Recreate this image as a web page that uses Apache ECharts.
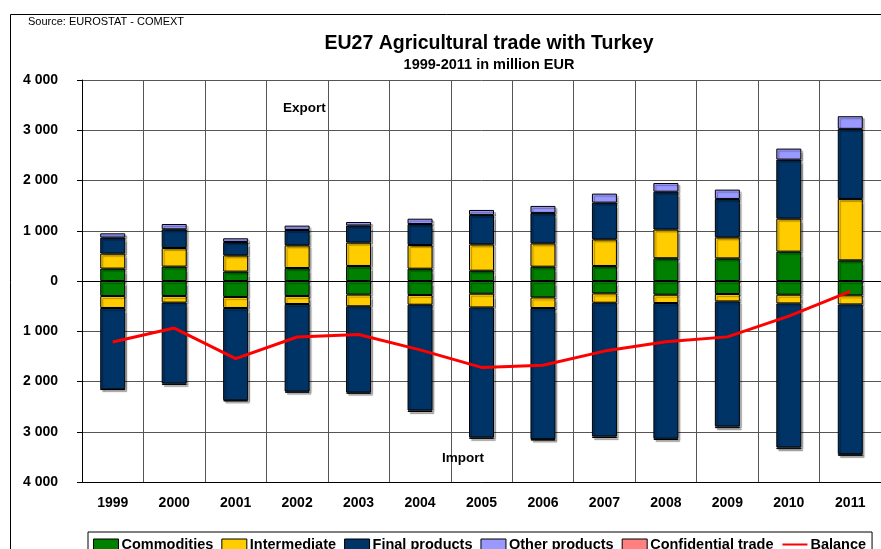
<!DOCTYPE html>
<html>
<head>
<meta charset="utf-8">
<title>EU27 Agricultural trade with Turkey</title>
<script src="https://cdn.jsdelivr.net/npm/echarts@6/dist/echarts.min.js"></script>
<style>
  html, body { margin: 0; padding: 0; background: #fff; }
  #chart { width: 881px; height: 549px; }
</style>
</head>
<body>
<div id="chart"></div>
<script>
const years = ['1999', '2000', '2001', '2002', '2003', '2004', '2005', '2006', '2007', '2008', '2009', '2010', '2011']

// export side (positive), million EUR
const commoditiesExport = [247, 287, 187, 259, 299, 245, 205, 285, 299, 453, 450, 584, 411]
const intermediateExport = [298, 370, 324, 451, 465, 471, 524, 464, 530, 572, 419, 657, 1222]
const finalExport = [319, 372, 265, 305, 338, 418, 586, 606, 731, 752, 764, 1175, 1395]
const otherExport = [85, 105, 74, 87, 72, 106, 99, 139, 179, 173, 186, 219, 251]

// import side (negative)
const commoditiesImport = [-299, -299, -318, -299, -271, -279, -253, -327, -247, -273, -259, -273, -286]
const intermediateImport = [-238, -131, -219, -159, -232, -193, -273, -211, -185, -165, -147, -173, -180]
const finalImport = [-1618, -1612, -1837, -1743, -1718, -2105, -2589, -2609, -2663, -2701, -2490, -2868, -2980]
const otherImport = [-10, -25, -20, -20, -20, -30, -26, -28, -30, -24, -33, -33, -34]

const confidential = [0, 0, 0, 0, 0, 0, 0, 0, 0, 0, 0, 0, 0]
const balance = [-1214, -936, -1545, -1115, -1065, -1370, -1720, -1678, -1395, -1210, -1112, -700, -205]

const yTicks = [-4000, -3000, -2000, -1000, 0, 1000, 2000, 3000, 4000]

const FONT = 'Liberation Sans, Arial, sans-serif'

const colors = {
  'Commodities': '#008000',
  'Intermediate': '#FFCC00',
  'Final products': '#003366',
  'Other products': '#9999FF',
  'Confidential trade': '#FF8080',
  'Balance': '#FF0000'
}

function barSeries(name, data) {
  return {
    name: name,
    type: 'bar',
    stack: 'trade',
    barWidth: 25,
    data: data.map(v => (v === 0 ? null : v)),
    itemStyle: {
      color: colors[name],
      borderColor: '#000',
      borderWidth: 1,
      shadowColor: 'rgba(0,0,0,0.3)',
      shadowOffsetX: 2,
      shadowOffsetY: 2,
      shadowBlur: 1
    },
    emphasis: { disabled: true }
  }
}

function fmt(v) {
  return String(Math.abs(v)).replace(/\B(?=(\d{3})+(?!\d))/g, ' ')
}

const legendNames = ['Commodities', 'Intermediate', 'Final products', 'Other products', 'Confidential trade']

const option = {
  animation: false,
  backgroundColor: '#fff',
  title: [
    {
      text: 'EU27 Agricultural trade with Turkey',
      left: 484,
      top: 29,
      textAlign: 'center',
      textStyle: { fontFamily: FONT, fontWeight: 'bold', fontSize: 19.5, color: '#000' }
    },
    {
      text: '1999-2011 in million EUR',
      left: 484,
      top: 52,
      textAlign: 'center',
      textStyle: { fontFamily: FONT, fontWeight: 'bold', fontSize: 14.5, color: '#000' }
    }
  ],
  graphic: [
    {
      type: 'rect',
      shape: { x: 10.5, y: 14.5, width: 900, height: 600 },
      style: { fill: 'none', stroke: '#000', lineWidth: 1 },
      silent: true,
      z: -1
    },
    {
      type: 'text',
      left: 28,
      top: 16,
      style: { text: 'Source: EUROSTAT - COMEXT', font: '11px ' + FONT, fill: '#000' }
    },
    {
      type: 'text',
      left: 283,
      top: 101,
      style: { text: 'Export', font: 'bold 13.5px ' + FONT, fill: '#000' },
      z: 10
    },
    {
      type: 'text',
      left: 442,
      top: 451,
      style: { text: 'Import', font: 'bold 13.5px ' + FONT, fill: '#000' },
      z: 10
    }
  ],
  legend: {
    left: 88,
    top: 532,
    padding: [5, 6, 8, 5],
    itemGap: 8,
    itemWidth: 25,
    itemHeight: 11,
    backgroundColor: '#fff',
    borderColor: '#000',
    borderWidth: 1,
    borderRadius: 0,
    textStyle: { fontFamily: FONT, fontWeight: 'bold', fontSize: 14.5, color: '#000', padding: [0, 0, 0, -2] },
    data: legendNames.map(n => ({
      name: n,
      icon: 'rect',
      itemStyle: { color: colors[n], borderColor: '#000', borderWidth: 1, shadowBlur: 0, shadowOffsetX: 0, shadowOffsetY: 0 }
    })).concat([{ name: 'Balance', itemStyle: { opacity: 0 } }])
  },
  grid: { left: 82, right: -7, top: 80, bottom: 67 },
  xAxis: {
    type: 'category',
    data: years,
    axisLine: { onZero: false, lineStyle: { color: '#000', width: 1 } },
    axisTick: { show: false },
    axisLabel: { fontFamily: FONT, fontWeight: 'bold', fontSize: 14, color: '#000', margin: 14 },
    splitLine: { show: true, lineStyle: { color: '#555', width: 1 } }
  },
  yAxis: {
    type: 'value',
    min: yTicks[0],
    max: yTicks[yTicks.length - 1],
    interval: 1000,
    axisLine: { show: true, lineStyle: { color: '#000', width: 1 } },
    axisTick: { show: true, inside: false, length: 5, lineStyle: { color: '#000' } },
    axisLabel: { fontFamily: FONT, fontWeight: 'bold', fontSize: 14, color: '#000', margin: 24, formatter: fmt },
    splitLine: { show: true, lineStyle: { color: '#555', width: 1 } }
  },
  series: [
    barSeries('Commodities', commoditiesExport),
    barSeries('Commodities', commoditiesImport),
    barSeries('Intermediate', intermediateExport),
    barSeries('Intermediate', intermediateImport),
    barSeries('Final products', finalExport),
    barSeries('Final products', finalImport),
    barSeries('Other products', otherExport),
    barSeries('Other products', otherImport),
    barSeries('Confidential trade', confidential),
    {
      name: 'Balance',
      type: 'line',
      data: balance,
      symbol: 'none',
      showSymbol: false,
      z: 5,
      lineStyle: { color: colors['Balance'], width: 3 },
      itemStyle: { color: colors['Balance'] },
      emphasis: { disabled: true },
      markLine: {
        silent: true,
        symbol: 'none',
        label: { show: false },
        lineStyle: { color: '#000', width: 1, type: 'solid' },
        data: [{ yAxis: 0 }],
        z: 1
      }
    }
  ]
}

const chart = echarts.init(document.getElementById('chart'), null, { renderer: 'canvas' })
chart.setOption(option)
</script>
</body>
</html>
